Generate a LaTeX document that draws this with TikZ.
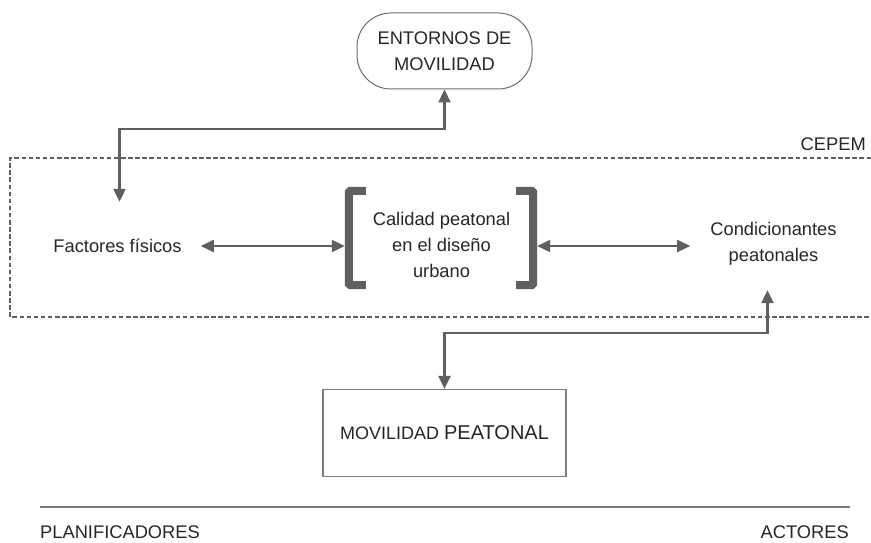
\documentclass[tikz,border=0pt]{standalone}
\usepackage{fontspec}
\setmainfont{Liberation Sans}
\usetikzlibrary{arrows.meta,calc}
\definecolor{cgray}{HTML}{5F5F5F}
\definecolor{fgray}{HTML}{6E6E6E}
\definecolor{tgray}{HTML}{262626}
\begin{document}
\begin{tikzpicture}[x=1pt,y=-1pt,
  conn/.style={draw=cgray, line width=2.2pt,
    {Triangle[length=13pt,width=12pt]}-{Triangle[length=13pt,width=12pt]}},
  txt/.style={font=\fontsize{18.3}{26}\selectfont, align=center, text=tgray},
  brk/.style={draw=cgray, line width=8pt, rounded corners=1.5pt, line cap=butt},
  frame/.style={draw=fgray, line width=1pt},
  cepem/.style={draw=cgray, line width=2.4pt, dash pattern=on 4.5pt off 2.6pt}]
\useasboundingbox (0,0) rectangle (871,543);
% nodes
\node[txt, frame, minimum width=175pt, minimum height=76pt, rounded corners=34pt] (ent) at (444.5,51) {ENTORNOS DE\\MOVILIDAD};
\node[txt, inner xsep=19pt, inner ysep=0pt, minimum height=88pt] (fact) at (117.5,246) {Factores físicos};
\node[minimum width=192pt, minimum height=102pt, inner sep=0pt] (calbox) at (441,238) {};
\node[txt] (cal) at (441.5,245) {Calidad peatonal\\en el diseño\\urbano};
\node[txt, inner xsep=20pt, inner ysep=0pt, minimum height=92pt] (cond) at (773.5,244) {Condicionantes\\peatonales};
\node[frame, draw=fgray!90, line width=1.2pt, minimum width=243pt, minimum height=87pt, text=tgray] (mov) at (444.5,433)
  {\fontsize{18}{20}\selectfont MOVILIDAD \fontsize{20}{24}\selectfont PEATONAL};
\node[txt, anchor=south east, inner sep=0pt] (cep) at (866,151) {CEPEM};
\node[txt, anchor=west, inner sep=0pt] (planif) at (40,532) {PLANIFICADORES};
\node[txt, anchor=east, inner sep=0pt] (act) at (849,532) {ACTORES};
% CEPEM frame
\draw[cepem] (871,158) -- (10,158) -- (10,317) -- (871,317);
% bottom rule
\coordinate (ruleL) at (40,507);
\coordinate (ruleR) at (850,507);
\draw[draw=fgray!90, line width=1.6pt] (ruleL) -- (ruleR);
% brackets
\draw[brk] ($(calbox.north west)+(21,4)$) -- ($(calbox.north west)+(4,4)$) -- ($(calbox.south west)+(4,-4)$) -- ($(calbox.south west)+(21,-4)$);
\draw[brk] ($(calbox.north east)+(-21,4)$) -- ($(calbox.north east)+(-4,4)$) -- ($(calbox.south east)+(-4,-4)$) -- ($(calbox.south east)+(-21,-4)$);
% connectors
\coordinate (turn1) at (444.5,129);
\coordinate (turn2) at (444.5,333);
\draw[conn] ([xshift=2pt]fact.north) |- (turn1) -- (ent.south);
\draw[conn] (fact.east) -- (fact.east -| calbox.west);
\draw[conn] (fact.east -| calbox.east) -- (fact.east -| cond.west);
\draw[conn] ([xshift=-6pt]cond.south) |- (turn2) -- (mov.north);
\end{tikzpicture}
\end{document}
